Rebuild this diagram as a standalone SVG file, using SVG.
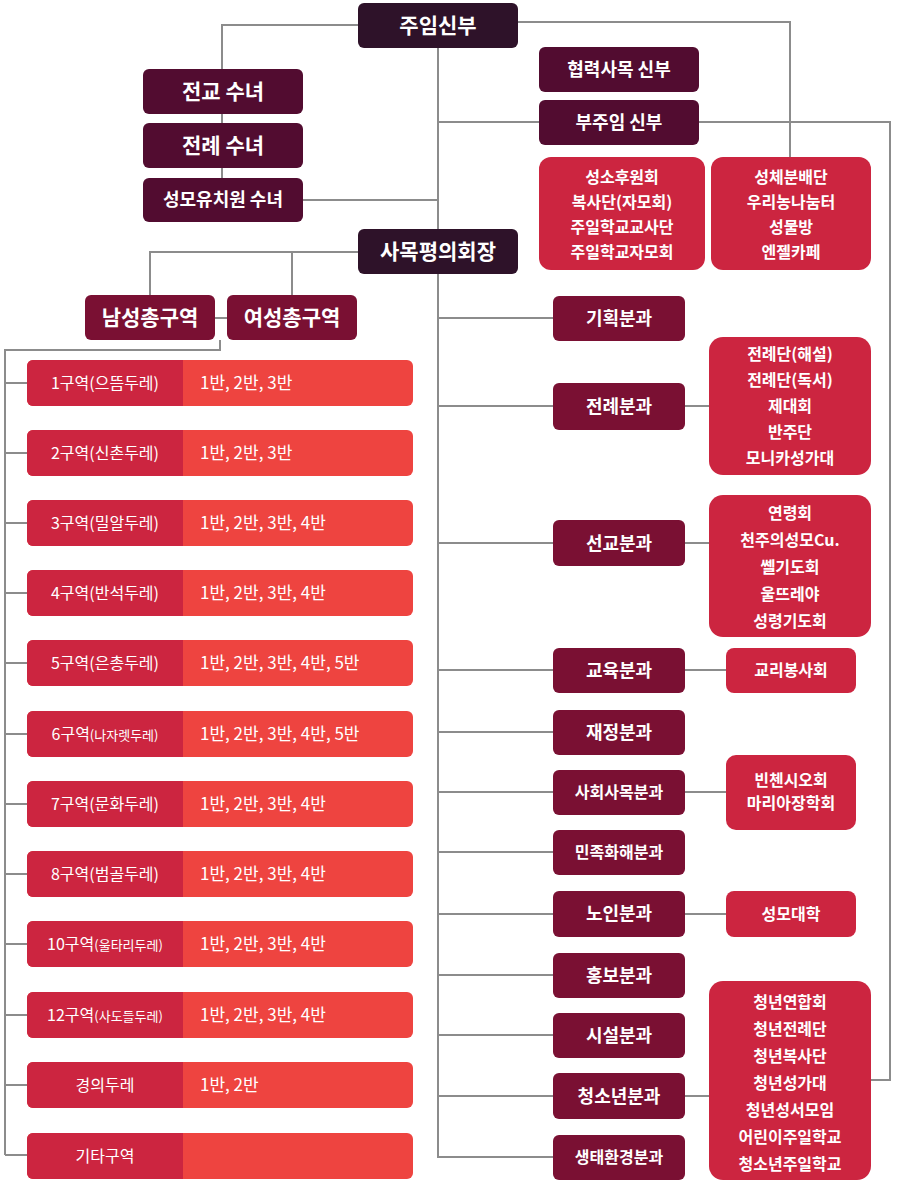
<svg xmlns="http://www.w3.org/2000/svg" width="898" height="1200" viewBox="0 0 898 1200">
<style>
text{font-family:"Noto Sans CJK KR","Noto Sans",sans-serif;fill:#fff;text-anchor:middle;font-weight:bold}
.top{fill:#2e1229}.sis{fill:#520c30}.mid{fill:#7a1033}.red{fill:#cc2540}.r2{fill:#ee4440}
.c{stroke:#8c8c8c;stroke-width:2;fill:none}
.big{font-size:21px}.m{font-size:18px}.s{font-size:16px}.l{text-anchor:start;font-size:17px;font-weight:normal}
</style>
<g id="connectors" class="c">
<path d="M358 25H222V69M222 114V123M222 168V178M303 200H438M438 48V1157H553M518 22H790V157M438 122H539M699 122H890V1080H868"/>
<path d="M358 252H150V295M292 252V295M215 318H227M220 340V350H5V1155"/>
<path d="M5 383H27M5 453H27M5 523H27M5 593H27M5 663H27M5 734H27M5 804H27M5 874H27M5 944H27M5 1015H27M5 1085H27M5 1155H27"/>
<path d="M438 318H553M438 406H553M438 543H553M438 670H553M438 732H553M438 792H553M438 852H553M438 914H553M438 975H553M438 1035H553M438 1096H553"/>
<path d="M685 406H709M685 543H709M685 670H726M685 792H726M685 914H726M685 1096H709"/>
</g>
<g id="n_juim"><rect class="top" x="358" y="3" width="160" height="45" rx="6"/><text class="big" x="438" y="33">주임신부</text></g>
<g id="n_jeongyo"><rect class="sis" x="143" y="69" width="160" height="45" rx="6"/><text class="big" x="223" y="99">전교 수녀</text></g>
<g id="n_jeonrye_s"><rect class="sis" x="143" y="123" width="160" height="45" rx="6"/><text class="big" x="223" y="153">전례 수녀</text></g>
<g id="n_kinder"><rect class="sis" x="143" y="178" width="160" height="44" rx="6"/><text class="m" x="223" y="206">성모유치원 수녀</text></g>
<g id="n_hyeop"><rect class="sis" x="539" y="47" width="160" height="45" rx="6"/><text class="m" x="619" y="76">협력사목 신부</text></g>
<g id="n_bujuim"><rect class="sis" x="539" y="100" width="160" height="45" rx="6"/><text class="m" x="619" y="129">부주임 신부</text></g>
<g id="n_seongso"><rect class="red" x="539" y="157" width="166" height="113" rx="12"/><text class="s" x="622" y="183">성소후원회</text><text class="s" x="622" y="208">복사단(자모회)</text><text class="s" x="622" y="233">주일학교교사단</text><text class="s" x="622" y="258">주일학교자모회</text></g>
<g id="n_seongche"><rect class="red" x="711" y="157" width="160" height="113" rx="12"/><text class="s" x="791" y="183">성체분배단</text><text class="s" x="791" y="208">우리농나눔터</text><text class="s" x="791" y="233">성물방</text><text class="s" x="791" y="258">엔젤카페</text></g>
<g id="n_samok"><rect class="top" x="358" y="229" width="160" height="45" rx="6"/><text class="big" x="438" y="259">사목평의회장</text></g>
<g id="n_nam"><rect class="mid" x="85" y="295" width="130" height="45" rx="6"/><text class="big" x="150" y="325">남성총구역</text></g>
<g id="n_yeo"><rect class="mid" x="227" y="295" width="130" height="45" rx="6"/><text class="big" x="292" y="325">여성총구역</text></g>
<g id="rows">
<g id="r1"><rect class="r2" x="27" y="360" width="386" height="46" rx="6"/><path class="red" d="M33 360H183V406H33A6 6 0 0 1 27 400V366A6 6 0 0 1 33 360Z"/><text class="s" x="105" y="389" style="font-weight:normal">1구역(으뜸두레)</text><text class="l" x="200" y="389">1반, 2반, 3반</text></g>
<g id="r2"><rect class="r2" x="27" y="430" width="386" height="46" rx="6"/><path class="red" d="M33 430H183V476H33A6 6 0 0 1 27 470V436A6 6 0 0 1 33 430Z"/><text class="s" x="105" y="459" style="font-weight:normal">2구역(신촌두레)</text><text class="l" x="200" y="459">1반, 2반, 3반</text></g>
<g id="r3"><rect class="r2" x="27" y="500" width="386" height="46" rx="6"/><path class="red" d="M33 500H183V546H33A6 6 0 0 1 27 540V506A6 6 0 0 1 33 500Z"/><text class="s" x="105" y="529" style="font-weight:normal">3구역(밀알두레)</text><text class="l" x="200" y="529">1반, 2반, 3반, 4반</text></g>
<g id="r4"><rect class="r2" x="27" y="570" width="386" height="46" rx="6"/><path class="red" d="M33 570H183V616H33A6 6 0 0 1 27 610V576A6 6 0 0 1 33 570Z"/><text class="s" x="105" y="599" style="font-weight:normal">4구역(반석두레)</text><text class="l" x="200" y="599">1반, 2반, 3반, 4반</text></g>
<g id="r5"><rect class="r2" x="27" y="640" width="386" height="46" rx="6"/><path class="red" d="M33 640H183V686H33A6 6 0 0 1 27 680V646A6 6 0 0 1 33 640Z"/><text class="s" x="105" y="669" style="font-weight:normal">5구역(은총두레)</text><text class="l" x="200" y="669">1반, 2반, 3반, 4반, 5반</text></g>
<g id="r6"><rect class="r2" x="27" y="711" width="386" height="46" rx="6"/><path class="red" d="M33 711H183V757H33A6 6 0 0 1 27 751V717A6 6 0 0 1 33 711Z"/><text x="105" y="740" style="font-weight:normal;font-size:16px">6구역<tspan style="font-size:13px">(나자렛두레)</tspan></text><text class="l" x="200" y="740">1반, 2반, 3반, 4반, 5반</text></g>
<g id="r7"><rect class="r2" x="27" y="781" width="386" height="46" rx="6"/><path class="red" d="M33 781H183V827H33A6 6 0 0 1 27 821V787A6 6 0 0 1 33 781Z"/><text class="s" x="105" y="810" style="font-weight:normal">7구역(문화두레)</text><text class="l" x="200" y="810">1반, 2반, 3반, 4반</text></g>
<g id="r8"><rect class="r2" x="27" y="851" width="386" height="46" rx="6"/><path class="red" d="M33 851H183V897H33A6 6 0 0 1 27 891V857A6 6 0 0 1 33 851Z"/><text class="s" x="105" y="880" style="font-weight:normal">8구역(범골두레)</text><text class="l" x="200" y="880">1반, 2반, 3반, 4반</text></g>
<g id="r10"><rect class="r2" x="27" y="921" width="386" height="46" rx="6"/><path class="red" d="M33 921H183V967H33A6 6 0 0 1 27 961V927A6 6 0 0 1 33 921Z"/><text x="105" y="950" style="font-weight:normal;font-size:16px">10구역<tspan style="font-size:13px">(울타리두레)</tspan></text><text class="l" x="200" y="950">1반, 2반, 3반, 4반</text></g>
<g id="r12"><rect class="r2" x="27" y="992" width="386" height="46" rx="6"/><path class="red" d="M33 992H183V1038H33A6 6 0 0 1 27 1032V998A6 6 0 0 1 33 992Z"/><text x="105" y="1021" style="font-weight:normal;font-size:16px">12구역<tspan style="font-size:13px">(사도들두레)</tspan></text><text class="l" x="200" y="1021">1반, 2반, 3반, 4반</text></g>
<g id="rgy"><rect class="r2" x="27" y="1062" width="386" height="46" rx="6"/><path class="red" d="M33 1062H183V1108H33A6 6 0 0 1 27 1102V1068A6 6 0 0 1 33 1062Z"/><text class="s" x="105" y="1091" style="font-weight:normal">경의두레</text><text class="l" x="200" y="1091">1반, 2반</text></g>
<g id="retc"><rect class="r2" x="27" y="1133" width="386" height="46" rx="6"/><path class="red" d="M33 1133H183V1179H33A6 6 0 0 1 27 1173V1139A6 6 0 0 1 33 1133Z"/><text class="s" x="105" y="1162" style="font-weight:normal">기타구역</text></g>
</g>
<g id="d1"><rect class="mid" x="553" y="296" width="132" height="45" rx="6"/><text class="m" x="619" y="325">기획분과</text></g>
<g id="d2"><rect class="mid" x="553" y="383" width="132" height="47" rx="6"/><text class="m" x="619" y="413">전례분과</text></g>
<g id="d3"><rect class="mid" x="553" y="520" width="132" height="46" rx="6"/><text class="m" x="619" y="550">선교분과</text></g>
<g id="d4"><rect class="mid" x="553" y="648" width="132" height="45" rx="6"/><text class="m" x="619" y="677">교육분과</text></g>
<g id="d5"><rect class="mid" x="553" y="710" width="132" height="45" rx="6"/><text class="m" x="619" y="739">재정분과</text></g>
<g id="d6"><rect class="mid" x="553" y="770" width="132" height="45" rx="6"/><text class="s" x="619" y="798">사회사목분과</text></g>
<g id="d7"><rect class="mid" x="553" y="830" width="132" height="45" rx="6"/><text class="s" x="619" y="858">민족화해분과</text></g>
<g id="d8"><rect class="mid" x="553" y="891" width="132" height="46" rx="6"/><text class="m" x="619" y="920">노인분과</text></g>
<g id="d9"><rect class="mid" x="553" y="953" width="132" height="45" rx="6"/><text class="m" x="619" y="982">홍보분과</text></g>
<g id="d10"><rect class="mid" x="553" y="1013" width="132" height="45" rx="6"/><text class="m" x="619" y="1042">시설분과</text></g>
<g id="d11"><rect class="mid" x="553" y="1073" width="132" height="46" rx="6"/><text class="m" x="619" y="1103">청소년분과</text></g>
<g id="d12"><rect class="mid" x="553" y="1135" width="132" height="45" rx="6"/><text class="s" x="619" y="1163">생태환경분과</text></g>
<g id="s1"><rect class="red" x="709" y="337" width="162" height="138" rx="14"/><text class="s" x="790" y="360">전례단(해설)</text><text class="s" x="790" y="386">전례단(독서)</text><text class="s" x="790" y="412">제대회</text><text class="s" x="790" y="438">반주단</text><text class="s" x="790" y="464">모니카성가대</text></g>
<g id="s2"><rect class="red" x="709" y="495" width="162" height="142" rx="14"/><text class="s" x="790" y="519">연령회</text><text class="s" x="790" y="546">천주의성모Cu.</text><text class="s" x="790" y="573">쎌기도회</text><text class="s" x="790" y="600">울뜨레야</text><text class="s" x="790" y="627">성령기도회</text></g>
<g id="s3"><rect class="red" x="726" y="648" width="130" height="45" rx="8"/><text class="s" x="791" y="676">교리봉사회</text></g>
<g id="s4"><rect class="red" x="726" y="755" width="130" height="75" rx="10"/><text class="s" x="791" y="786">빈첸시오회</text><text class="s" x="791" y="809">마리아장학회</text></g>
<g id="s5"><rect class="red" x="726" y="891" width="130" height="46" rx="8"/><text class="s" x="791" y="920">성모대학</text></g>
<g id="s6"><rect class="red" x="709" y="981" width="162" height="199" rx="14"/><text class="s" x="790" y="1008">청년연합회</text><text class="s" x="790" y="1035">청년전례단</text><text class="s" x="790" y="1062">청년복사단</text><text class="s" x="790" y="1089">청년성가대</text><text class="s" x="790" y="1116">청년성서모임</text><text class="s" x="790" y="1143">어린이주일학교</text><text class="s" x="790" y="1170">청소년주일학교</text></g>
</svg>
